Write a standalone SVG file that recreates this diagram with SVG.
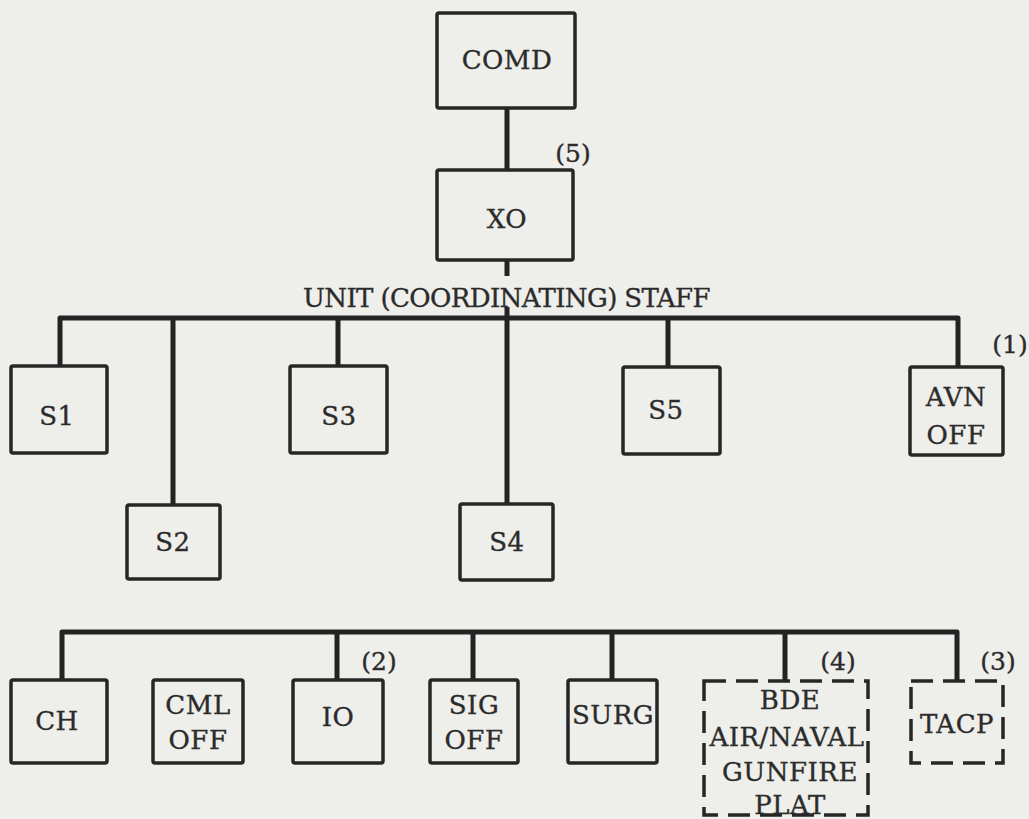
<svg xmlns="http://www.w3.org/2000/svg" width="1029" height="819" viewBox="0 0 1029 819">
<style>
.bg{fill:#eeeeea}
.box{fill:none;stroke:#262626;stroke-width:3.5;stroke-linejoin:round}
.dash{fill:none;stroke:#262626;stroke-width:3.5;stroke-dasharray:22 10}
.con{fill:none;stroke:#232323;stroke-width:5;stroke-linejoin:round}
text{font-family:"DejaVu Serif","Liberation Serif",serif;font-size:26px;fill:#2b2b2b;stroke:#2b2b2b;stroke-width:0.35;text-anchor:middle;letter-spacing:0.5px}
.note{font-size:25px;letter-spacing:0}
</style>
<rect class="bg" x="0" y="0" width="1029" height="819"/>
<g id="connectors">
<path class="con" d="M507,108 V170"/>
<path class="con" d="M507,260 V276"/>
<path class="con" d="M507,307 V504"/>
<path class="con" d="M60,366 V318 H958 V367"/>
<path class="con" d="M173,318 V504"/>
<path class="con" d="M338,318 V366"/>
<path class="con" d="M668,318 V367"/>
<path class="con" d="M62,680 V632 H957 V681"/>
<path class="con" d="M337,632 V680"/>
<path class="con" d="M473,632 V680"/>
<path class="con" d="M612,632 V680"/>
<path class="con" d="M785,632 V681"/>
</g>
<text x="507" y="307" letter-spacing="0" textLength="408" lengthAdjust="spacing">UNIT (COORDINATING) STAFF</text>
<g id="comd"><rect class="box" x="437" y="13" width="138" height="95" rx="2"/><text x="507" y="69" letter-spacing="2.5">COMD</text></g>
<text class="note" x="573" y="162">(5)</text>
<g id="xo"><rect class="box" x="437" y="170" width="136" height="90" rx="2"/><text x="507" y="228" letter-spacing="2">XO</text></g>
<g id="s1"><rect class="box" x="11" y="366" width="96" height="87" rx="2"/><text x="57" y="425">S1</text></g>
<g id="s3"><rect class="box" x="290" y="366" width="97" height="87" rx="2"/><text x="339" y="425">S3</text></g>
<g id="s5"><rect class="box" x="623" y="367" width="97" height="87" rx="2"/><text x="666" y="419">S5</text></g>
<g id="avn"><rect class="box" x="910" y="367" width="93" height="88" rx="2"/><text x="956" y="406">AVN</text><text x="956" y="444">OFF</text></g>
<text class="note" x="1010" y="353">(1)</text>
<g id="s2"><rect class="box" x="127" y="505" width="93" height="74" rx="2"/><text x="173" y="551">S2</text></g>
<g id="s4"><rect class="box" x="460" y="504" width="93" height="76" rx="2"/><text x="507" y="551">S4</text></g>
<g id="ch"><rect class="box" x="11" y="680" width="96" height="83" rx="2"/><text x="57" y="730">CH</text></g>
<g id="cml"><rect class="box" x="153" y="680" width="90" height="83" rx="2"/><text x="198" y="714">CML</text><text x="198" y="749">OFF</text></g>
<g id="io"><rect class="box" x="293" y="680" width="90" height="83" rx="2"/><text x="338" y="726">IO</text></g>
<text class="note" x="379" y="670">(2)</text>
<g id="sig"><rect class="box" x="430" y="680" width="88" height="83" rx="2"/><text x="474" y="714">SIG</text><text x="474" y="749">OFF</text></g>
<g id="surg"><rect class="box" x="568" y="680" width="89" height="83" rx="2"/><text x="613" y="724" letter-spacing="0">SURG</text></g>
<g id="bde"><rect class="dash" x="704" y="681" width="164" height="134"/><text x="790" y="709">BDE</text><text x="787" y="746" letter-spacing="0">AIR/NAVAL</text><text x="790" y="781">GUNFIRE</text><text x="790" y="814">PLAT</text></g>
<text class="note" x="838" y="670">(4)</text>
<g id="tacp"><rect class="dash" x="911" y="681" width="92" height="82"/><text x="957" y="733" letter-spacing="0">TACP</text></g>
<text class="note" x="998" y="670">(3)</text>
</svg>
